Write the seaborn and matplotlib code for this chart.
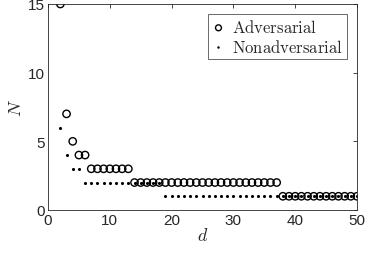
import matplotlib
matplotlib.use("Agg")
import matplotlib.pyplot as plt
import numpy as np
import pandas as pd
import seaborn as sns

# Data
d_values = list(range(2, 51))
adversarial = [15, 7, 5, 4, 4] + [3] * 7 + [2] * 24 + [1] * 13
nonadversarial = [6, 4, 3, 3] + [2] * 13 + [1] * 32

df_adv = pd.DataFrame({'d': d_values, 'N': adversarial})
df_non = pd.DataFrame({'d': d_values, 'N': nonadversarial})

sns.set_style('white')
plt.rcParams['mathtext.fontset'] = 'cm'
plt.rcParams['font.family'] = ['Liberation Sans', 'DejaVu Sans']

fig = plt.figure(figsize=(3.65, 2.55), dpi=100)
ax = fig.add_axes([48 / 365, 1 - 211 / 255, 309 / 365, 206 / 255])

sns.scatterplot(data=df_adv, x='d', y='N', ax=ax, marker='o', s=28,
                facecolor='none', edgecolor='black', linewidth=1.0,
                label=r'$\mathrm{Adversarial}$')
sns.scatterplot(data=df_non, x='d', y='N', ax=ax, marker='o', s=5,
                color='black', linewidth=0,
                label=r'$\mathrm{Nonadversarial}$')

ax.set_xlim(0, 50)
ax.set_ylim(0, 15)
ax.set_xticks([0, 10, 20, 30, 40, 50])
ax.set_yticks([0, 5, 10, 15])
ax.set_xlabel(r'$d$', fontsize=13, labelpad=0)
ax.set_ylabel(r'$N$', fontsize=13, labelpad=2)
ax.tick_params(direction='in', top=True, right=True, length=3, width=0.6,
               labelsize=11, colors='#262626', pad=2)
for sp in ax.spines.values():
    sp.set_color('#262626')
    sp.set_linewidth(0.6)

leg = ax.legend(loc='upper right', fontsize=12, frameon=True, fancybox=False,
                handletextpad=0.4, borderpad=0.25, labelspacing=0.15,
                handlelength=0.8, borderaxespad=0.6, markerscale=0.8)
leg.get_frame().set_edgecolor('#262626')
leg.get_frame().set_linewidth(0.6)

fig.savefig('out.png', dpi=100)
